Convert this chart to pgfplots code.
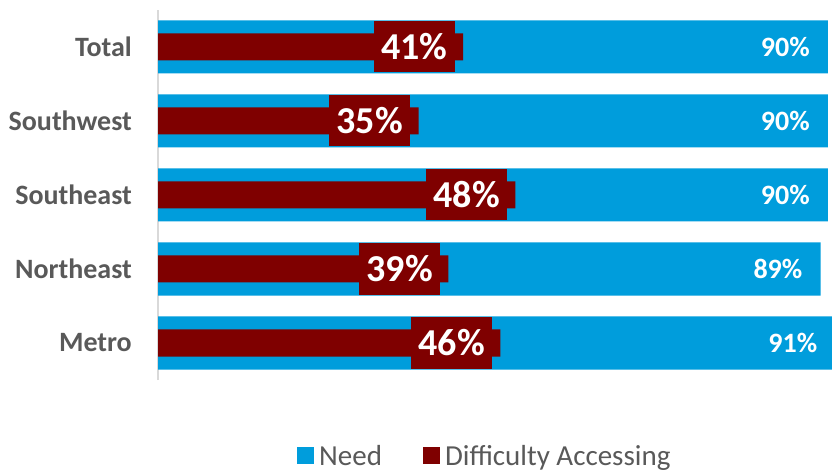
\documentclass[border=0pt]{standalone}
\usepackage{pgfplots}
\pgfplotsset{compat=1.18}
\usepackage{fontspec}
\setmainfont{Carlito}
\definecolor{needblue}{HTML}{009DDC}
\definecolor{diffred}{HTML}{7F0000}
\definecolor{txtgray}{HTML}{595959}
\definecolor{axgray}{HTML}{D9D9D9}
\begin{document}
\begin{tikzpicture}
\useasboundingbox (0,0) rectangle (832bp,470bp);
\begin{axis}[
 at={(158bp,90bp)}, anchor=south west,
 scale only axis, width=677.4bp, height=370bp,
 xmin=0, xmax=91, ymin=-0.5, ymax=4.5,
 hide x axis,
 axis y line*=left,
 y axis line style={draw=axgray, line width=1.5bp},
 ytick={0,1,2,3,4},
 yticklabels={Metro,Northeast,Southeast,Southwest,Total},
 ytick style={draw=none},
 major tick length=0pt,
 yticklabel style={font=\fontsize{28bp}{30bp}\selectfont\bfseries, text=txtgray, inner sep=0pt, xshift=-26bp},
 xbar, bar shift=0pt,
 legend columns=2,
 legend style={draw=none, at={(0.2030,-0.2054)}, anchor=west, inner sep=1bp, font=\fontsize{29bp}{31bp}\selectfont, text=txtgray,
   nodes={inner sep=1.5bp},
   /tikz/every odd column/.append style={column sep=4bp},
   /tikz/every even column/.append style={column sep=39bp}},
 legend image code/.code={\fill[#1] (0bp,-8.5bp) rectangle (17bp,8.5bp);},
]
\addplot[draw=none, fill=needblue, bar width=53bp,
  nodes near coords={\pgfmathprintnumber[assume math mode=true]{\pgfplotspointmeta}\%},
  nodes near coords style={anchor=east, inner sep=0pt, xshift=-18bp, text=white, font=\fontsize{28bp}{30bp}\selectfont\bfseries}]
 coordinates {(91,0) (89,1) (90,2) (90,3) (90,4)};
\addlegendentry{Need}
\addplot[draw=none, fill=diffred, bar width=27bp,
  nodes near coords={\pgfmathprintnumber[assume math mode=true]{\pgfplotspointmeta}\%},
  nodes near coords style={anchor=east, xshift=-8bp, fill=diffred, text=white, minimum width=81bp, minimum height=51bp, inner sep=0pt, font=\fontsize{38bp}{40bp}\selectfont\bfseries}]
 coordinates {(46,0) (39,1) (48,2) (35,3) (41,4)};
\addlegendentry{Difficulty Accessing}
\end{axis}
\end{tikzpicture}
\end{document}
